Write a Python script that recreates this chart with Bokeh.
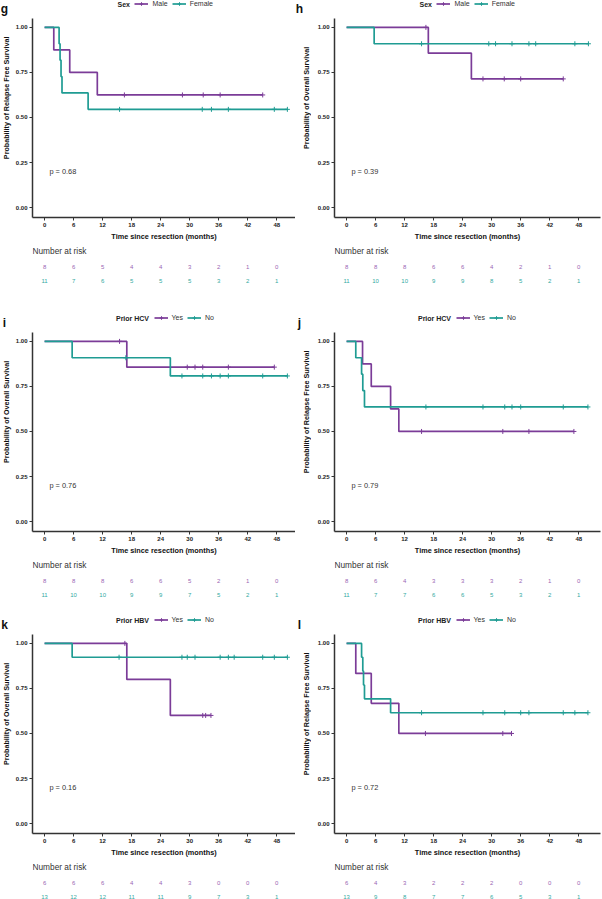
import math
from bokeh.plotting import figure
from bokeh.models import (ColumnDataSource, Range1d, FixedTicker, NumeralTickFormatter,
                          Legend, LegendItem, Label)
from bokeh.layouts import column, row
from bokeh.embed import file_html
from bokeh.resources import INLINE
from bokeh.core.properties import value

# ---------------- data ----------------
risk_times = [0, 6, 12, 18, 24, 30, 36, 42, 48]
y_ticks = [0.0, 0.25, 0.5, 0.75, 1.0]

# panel g : RFS by sex
g_groups = ["Male", "Female"]
g_a_event_t = [1.9, 5.2, 10.9]
g_a_event_s = [0.875, 0.75, 0.625]
g_a_cens = [16.5, 28.5, 32.8, 36.3, 45.1]
g_a_end = 45.1
g_b_event_t = [3.0, 3.2, 3.4, 3.6, 9.0]
g_b_event_s = [0.909, 0.818, 0.727, 0.636, 0.545]
g_b_cens = [15.5, 32.6, 34.5, 38.0, 47.5, 50.2]
g_b_end = 50.2
g_a_risk = [8, 6, 5, 4, 4, 3, 2, 1, 0]
g_b_risk = [11, 7, 6, 5, 5, 5, 3, 2, 1]

# panel h : OS by sex
h_groups = ["Male", "Female"]
h_a_event_t = [16.9, 25.8]
h_a_event_s = [0.857, 0.714]
h_a_cens = [16.4, 28.2, 32.6, 36.0, 44.8]
h_a_end = 44.8
h_b_event_t = [5.7]
h_b_event_s = [0.909]
h_b_cens = [15.5, 29.4, 30.8, 34.2, 37.7, 39.1, 47.2, 50.0]
h_b_end = 50.0
h_a_risk = [8, 8, 8, 6, 6, 4, 2, 1, 0]
h_b_risk = [11, 10, 10, 9, 9, 8, 5, 2, 1]

# panel i : OS by prior HCV
i_groups = ["Yes", "No"]
i_a_event_t = [17.0]
i_a_event_s = [0.857]
i_a_cens = [15.5, 29.5, 31.1, 32.7, 38.0, 47.5]
i_a_end = 47.5
i_b_event_t = [5.7, 26.0]
i_b_event_s = [0.909, 0.808]
i_b_cens = [16.8, 28.4, 32.7, 34.5, 36.3, 38.0, 45.1, 50.2]
i_b_end = 50.2
i_a_risk = [8, 8, 8, 6, 6, 5, 2, 1, 0]
i_b_risk = [11, 10, 10, 9, 9, 7, 5, 2, 1]

# panel j : RFS by prior HCV
j_groups = ["Yes", "No"]
j_a_event_t = [3.3, 5.1, 9.1, 10.8]
j_a_event_s = [0.875, 0.75, 0.625, 0.5]
j_a_cens = [15.5, 32.3, 37.7, 47.0]
j_a_end = 47.0
j_b_event_t = [1.9, 3.1, 3.35, 3.7]
j_b_event_s = [0.909, 0.818, 0.727, 0.636]
j_b_cens = [16.4, 28.2, 32.7, 34.2, 36.0, 44.8, 49.9]
j_b_end = 49.9
j_a_risk = [8, 6, 4, 3, 3, 3, 2, 1, 0]
j_b_risk = [11, 7, 7, 6, 6, 5, 3, 2, 1]

# panel k : OS by prior HBV
k_groups = ["Yes", "No"]
k_a_event_t = [17.0, 26.0]
k_a_event_s = [0.8, 0.6]
k_a_cens = [16.6, 32.7, 33.3, 34.4]
k_a_end = 34.4
k_b_event_t = [5.7]
k_b_event_s = [0.923]
k_b_cens = [15.4, 28.4, 29.5, 31.1, 36.3, 38.0, 39.2, 45.1, 47.5, 50.2]
k_b_end = 50.2
k_a_risk = [6, 6, 6, 4, 4, 3, 0, 0, 0]
k_b_risk = [13, 12, 12, 11, 11, 9, 7, 3, 1]

# panel l : RFS by prior HBV
l_groups = ["Yes", "No"]
l_a_event_t = [1.9, 5.1, 10.8]
l_a_event_s = [0.833, 0.667, 0.5]
l_a_cens = [16.3, 32.3, 34.1]
l_a_end = 34.1
l_b_event_t = [3.1, 3.35, 3.5, 3.7, 9.1]
l_b_event_s = [0.923, 0.846, 0.769, 0.692, 0.615]
l_b_cens = [15.5, 28.2, 32.7, 36.0, 37.7, 44.8, 47.2, 49.9]
l_b_end = 49.9
l_a_risk = [6, 4, 3, 2, 2, 2, 0, 0, 0]
l_b_risk = [13, 9, 8, 7, 7, 6, 5, 3, 1]

RFS = "Probability of Relapse Free Survival"
OS = "Probability of Overall Survival"

panels = [
    dict(letter="g", title="Sex", groups=g_groups, ylabel=RFS, p="p = 0.68",
         a=(g_a_event_t, g_a_event_s, g_a_cens, g_a_end, g_a_risk),
         b=(g_b_event_t, g_b_event_s, g_b_cens, g_b_end, g_b_risk)),
    dict(letter="h", title="Sex", groups=h_groups, ylabel=OS, p="p = 0.39",
         a=(h_a_event_t, h_a_event_s, h_a_cens, h_a_end, h_a_risk),
         b=(h_b_event_t, h_b_event_s, h_b_cens, h_b_end, h_b_risk)),
    dict(letter="i", title="Prior HCV", groups=i_groups, ylabel=OS, p="p = 0.76",
         a=(i_a_event_t, i_a_event_s, i_a_cens, i_a_end, i_a_risk),
         b=(i_b_event_t, i_b_event_s, i_b_cens, i_b_end, i_b_risk)),
    dict(letter="j", title="Prior HCV", groups=j_groups, ylabel=RFS, p="p = 0.79",
         a=(j_a_event_t, j_a_event_s, j_a_cens, j_a_end, j_a_risk),
         b=(j_b_event_t, j_b_event_s, j_b_cens, j_b_end, j_b_risk)),
    dict(letter="k", title="Prior HBV", groups=k_groups, ylabel=OS, p="p = 0.16",
         a=(k_a_event_t, k_a_event_s, k_a_cens, k_a_end, k_a_risk),
         b=(k_b_event_t, k_b_event_s, k_b_cens, k_b_end, k_b_risk)),
    dict(letter="l", title="Prior HBV", groups=l_groups, ylabel=RFS, p="p = 0.72",
         a=(l_a_event_t, l_a_event_s, l_a_cens, l_a_end, l_a_risk),
         b=(l_b_event_t, l_b_event_s, l_b_cens, l_b_end, l_b_risk)),
]

# ---------------- style / geometry ----------------
FONT = "Liberation Sans"
PURPLE = "#7B3C98"
TEAL = "#1F9C93"
PURPLE_T = "#9A66B4"
TEAL_T = "#33AAA2"
AXIS_C = "#333333"

PXU = 181.0                 # pixels per survival unit
PXM = 266.0 / 55.0          # pixels per month
X0 = -2.5
Y0 = -10 / PXU
Y1 = Y0 + 218 / PXU
MAIN_H = 243
FRAME_H = 218
RISK_H = [71, 59, 40]

# per column: total width, side strip width, main left border, frame width, right border,
# letter x and y-label x inside the side strip
COLS = [
    dict(w=295, side=12, lb=20, fw=263, rb=0, letter_x=4, ylab_x=5.5),
    dict(w=307, side=16, lb=23, fw=266, rb=2, letter_x=4, ylab_x=10.5),
]

W_REG = {" ": 278, "M": 833, "a": 556, "l": 222, "e": 556, "F": 611, "m": 833,
         "Y": 667, "s": 500, "N": 722, "o": 556}
W_BOLD = {" ": 278, "S": 667, "e": 556, "x": 556, "P": 667, "r": 389, "i": 278,
          "o": 611, "H": 722, "C": 722, "V": 667, "B": 722}
LEG_FS = 7.0
GLYPH_W = 14
LABEL_SO = 4
ITEM_SP = 4
TITLE_GAP = 5
LEG_H = 9


def text_w(s, fs, table):
    return sum(table.get(c, 556) for c in s) * fs / 1000.0


def km_xy(ev_t, ev_s, end):
    xs = [0.0] + list(ev_t) + [end]
    ys = [1.0] + list(ev_s) + [ev_s[-1]]
    return xs, ys


def surv_at(t, ev_t, ev_s):
    s = 1.0
    for et, es in zip(ev_t, ev_s):
        if et <= t:
            s = es
    return s


def bare(w, h, xr, yr):
    f = figure(width=w, height=h, x_range=xr, y_range=yr, output_backend="svg",
               toolbar_location=None, x_axis_type=None, y_axis_type=None,
               min_border_left=0, min_border_right=0, min_border_top=0, min_border_bottom=0)
    f.outline_line_color = None
    f.xgrid.visible = False
    f.ygrid.visible = False
    return f


def build_panel(pd, c, row_idx):
    fw = c["fw"]
    xr = Range1d(X0, X0 + fw / PXM)

    # side strip: panel letter + rotated y-axis title
    side = bare(c["side"], MAIN_H, Range1d(0, c["side"]), Range1d(MAIN_H, 0))
    ls = ColumnDataSource(dict(x=[c["letter_x"]], y=[9], t=[pd["letter"]]))
    side.text("x", "y", text="t", source=ls, text_font=value(FONT),
              text_font_size=value("12px"), text_font_style="bold", text_color="#111111",
              text_align="center", text_baseline="middle")
    ys = ColumnDataSource(dict(x=[c["ylab_x"]], y=[FRAME_H / 2.0], t=[pd["ylabel"]]))
    side.text("x", "y", text="t", source=ys, angle=math.pi / 2, text_font=value(FONT),
              text_font_size=value("7.2px"), text_font_style="bold", text_color="#111111",
              text_align="center", text_baseline="middle")

    p = figure(width=c["w"] - c["side"], height=MAIN_H, x_range=xr,
               y_range=Range1d(Y0, Y1), output_backend="svg", toolbar_location=None,
               min_border_left=c["lb"], min_border_right=c["rb"], min_border_top=0,
               min_border_bottom=MAIN_H - FRAME_H)
    p.xgrid.visible = False
    p.ygrid.visible = False
    p.outline_line_color = None

    p.xaxis.ticker = FixedTicker(ticks=risk_times)
    p.yaxis.ticker = FixedTicker(ticks=y_ticks)
    p.yaxis.formatter = NumeralTickFormatter(format="0.00")
    p.yaxis.bounds = (Y0, 1.05)
    for ax in (p.xaxis[0], p.yaxis[0]):
        ax.axis_line_color = AXIS_C
        ax.axis_line_width = 1.5
        ax.major_tick_line_color = AXIS_C
        ax.major_tick_line_width = 1
        ax.major_tick_out = 3
        ax.major_tick_in = 0
        ax.minor_tick_line_color = None
        ax.major_label_text_font = FONT
        ax.major_label_text_font_size = "6px"
        ax.major_label_text_font_style = "bold"
        ax.major_label_text_color = "#222222"
        ax.major_label_standoff = 2
    p.xaxis.axis_label = "Time since resection (months)"
    p.xaxis.axis_label_text_font = FONT
    p.xaxis.axis_label_text_font_style = "bold"
    p.xaxis.axis_label_text_color = "#111111"
    p.xaxis.axis_label_text_font_size = "7.3px"
    p.xaxis.axis_label_standoff = 2

    items = []
    for key, color, lab in (("a", PURPLE, pd["groups"][0]), ("b", TEAL, pd["groups"][1])):
        ev_t, ev_s, cens, end, _ = pd[key]
        xs, ys_ = km_xy(ev_t, ev_s, end)
        src = ColumnDataSource(dict(x=xs, y=ys_))
        lr = p.step("x", "y", source=src, mode="after", line_color=color, line_width=1.7)
        csrc = ColumnDataSource(dict(x=cens, y=[surv_at(t, ev_t, ev_s) for t in cens]))
        cr = p.scatter("x", "y", source=csrc, marker="cross", size=5, line_color=color,
                       line_width=1)
        items.append(LegendItem(label=lab, renderers=[lr, cr]))

    # legend: bold title + items, centred over a 266-px frame
    title_w = text_w(pd["title"], LEG_FS, W_BOLD)
    items_w = sum(GLYPH_W + LABEL_SO + text_w(g, LEG_FS, W_REG) for g in pd["groups"]) + ITEM_SP
    total_w = title_w + TITLE_GAP + items_w
    start = 266 / 2.0 - total_w / 2.0
    leg = Legend(items=items, orientation="horizontal",
                 location=(start + title_w + TITLE_GAP, FRAME_H - LEG_H),
                 label_text_font=FONT, label_text_font_size="%gpx" % LEG_FS,
                 label_text_color="#333333",
                 label_height=LEG_H, glyph_height=LEG_H, glyph_width=GLYPH_W,
                 label_standoff=LABEL_SO, label_width=0,
                 spacing=ITEM_SP, padding=0, margin=0, border_line_color=None,
                 background_fill_alpha=0)
    p.add_layout(leg)
    p.add_layout(Label(x=X0, y=Y1 - (LEG_H / 2.0) / PXU, x_offset=start, text=pd["title"],
                       text_font=FONT, text_font_size="%gpx" % LEG_FS,
                       text_font_style="bold", text_color="#222222",
                       text_align="left", text_baseline="middle"))

    ps = ColumnDataSource(dict(x=[1.0], y=[0.2], t=[pd["p"]]))
    p.text("x", "y", text="t", source=ps, text_font=value(FONT), text_font_size=value("7.4px"),
           text_color="#333333", text_align="left", text_baseline="middle")

    # number-at-risk table
    rh = RISK_H[row_idx]
    r = figure(width=c["w"], height=rh, x_range=xr, y_range=Range1d(rh, 0),
               output_backend="svg", toolbar_location=None, x_axis_type=None,
               y_axis_type=None, min_border_left=c["side"] + c["lb"],
               min_border_right=c["rb"], min_border_top=0, min_border_bottom=0)
    r.outline_line_color = None
    r.xgrid.visible = False
    r.ygrid.visible = False
    ns = ColumnDataSource(dict(x=[X0], y=[7], t=["Number at risk"]))
    r.text("x", "y", text="t", source=ns, text_font=value(FONT), text_font_size=value("8.3px"),
           text_color="#333333", text_align="left", text_baseline="middle")
    for key, color, yy in (("a", PURPLE_T, 23), ("b", TEAL_T, 37)):
        risk = pd[key][4]
        rs = ColumnDataSource(dict(x=risk_times, y=[yy] * len(risk_times),
                                   t=[str(v) for v in risk]))
        r.text("x", "y", text="t", source=rs, text_font=value(FONT),
               text_font_size=value("6px"), text_color=color, text_align="center",
               text_baseline="middle")
    return column(row(side, p, spacing=0), r, spacing=0)


rows = []
for ri in range(3):
    left = build_panel(panels[2 * ri], COLS[0], ri)
    right = build_panel(panels[2 * ri + 1], COLS[1], ri)
    rows.append(row(left, right, spacing=0))

root = column(*rows, spacing=0)

open("out.html", "w").write(file_html(root, INLINE))
